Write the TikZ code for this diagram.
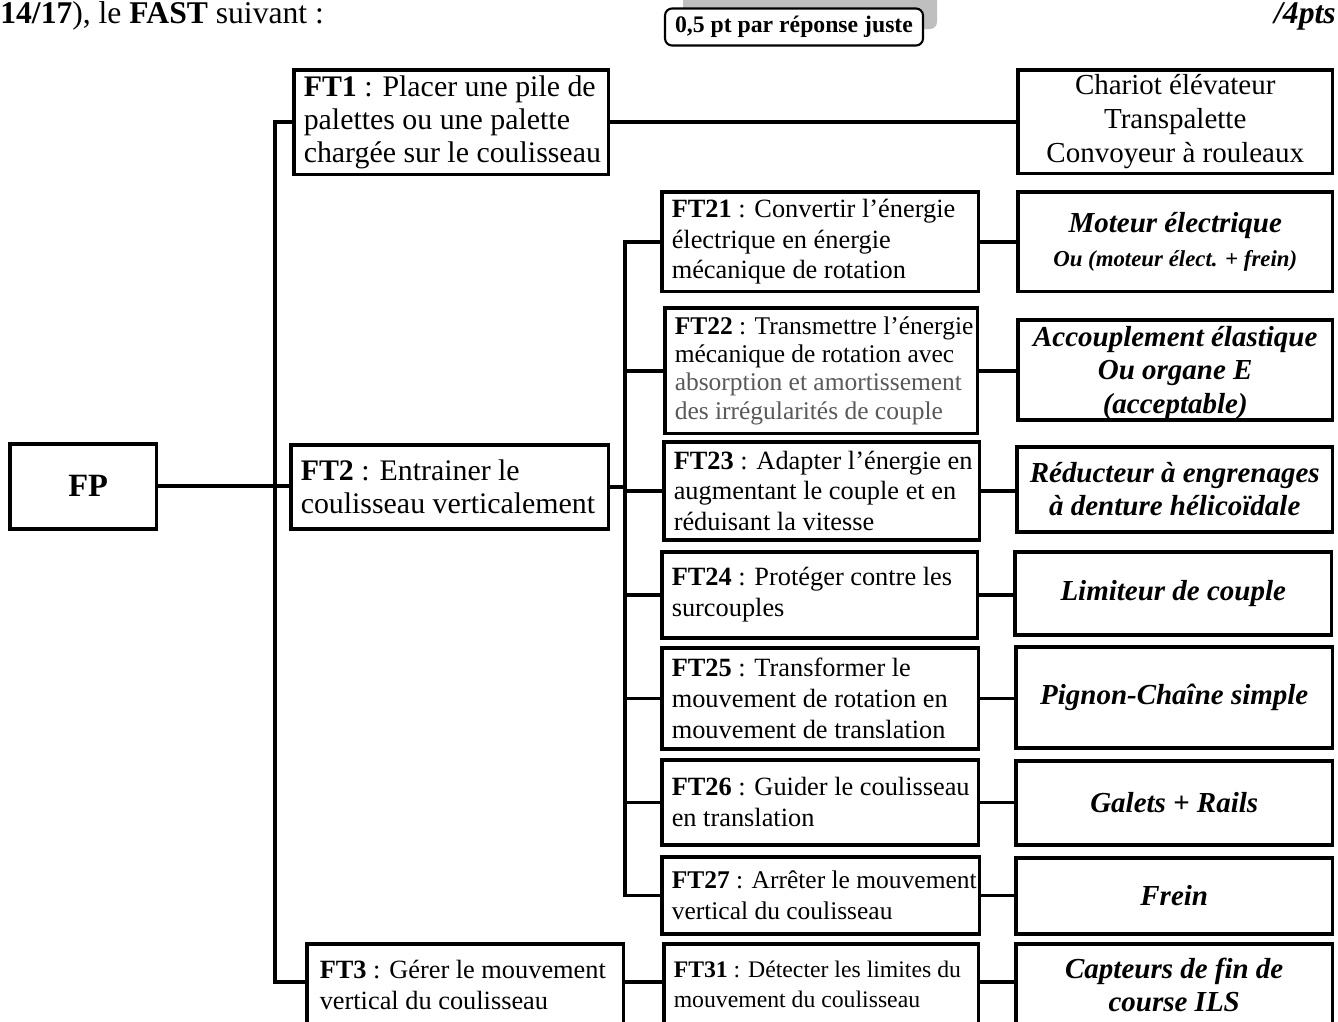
\documentclass[tikz,border=0pt]{standalone}
\usepackage{fontspec}
\setmainfont{Liberation Serif}
\usepackage{xcolor}
\usepackage{tikz}
\newcommand{\fsz}[2]{\fontsize{#1}{#2}\selectfont}

\begin{document}
\begin{tikzpicture}[
    x=0.02cm, y=-0.02cm,
    func/.style={draw, line width=2pt, anchor=north west, align=flush left,
                 inner sep=0pt, font=\fsz{15}{17.5},
                 execute at begin node={\leftskip=0.2cm\relax}},
    sol/.style={draw, line width=2pt, anchor=north west, align=center,
                inner sep=0pt, font=\fsz{16.5}{19}\bfseries\itshape},
    link/.style={line width=2pt}
]
\fill[white] (0,0) rectangle (1338,1021);
\useasboundingbox (0,0) rectangle (1338,1021);

% en-tete
\node[anchor=base west, inner sep=0pt, font=\fsz{18}{20}] (head) at (0,23) {\textbf{14/17}), le \textbf{FAST} suivant :};
\node[anchor=base east, inner sep=0pt, font=\fsz{18}{20}\bfseries\itshape] (pts) at (1336,23) {/4pts};
\fill[black!25, rounded corners=4pt] (683,-10) rectangle (937,29);
\node[draw, fill=white, rounded corners=4pt, line width=1.2pt, minimum width=5.16cm, minimum height=0.74cm,
      inner sep=0pt, font=\fsz{13.5}{15}\bfseries] (bareme) at (794,27) {0,5 pt par réponse juste};

% fonctions
\node[draw, line width=2pt, anchor=north west, minimum width=2.94cm, minimum height=1.70cm,
      font=\fsz{18.5}{20}\bfseries] (fp) at (8,442) {\hspace{0.2cm}FP};
\node[func, text width=6.30cm, minimum height=2.10cm, font=\fsz{17}{18.8}] (ft1) at (292,68) {\textbf{FT1} : Placer une pile de\\palettes ou une palette\\chargée sur le coulisseau};
\node[func, text width=6.36cm, minimum height=1.68cm, font=\fsz{17}{18.8}] (ft2) at (289,443) {\textbf{FT2} : Entrainer le\\coulisseau verticalement};
\node[func, text width=6.34cm, minimum height=1.64cm, execute at begin node={\leftskip=0.26cm\relax}] (ft3) at (305,942) {\textbf{FT3} : Gérer le mouvement\\vertical du coulisseau};

\node[func, text width=6.34cm, minimum height=2.00cm] (ft21) at (660,190) {\textbf{FT21} : Convertir l’énergie\\électrique en énergie\\mécanique de rotation};
\node[func, text width=6.26cm, minimum height=2.52cm, font=\fsz{14.5}{16}] (ft22) at (663,306) {\textbf{FT22} : Transmettre l’énergie\\mécanique de rotation avec\\{\color{black!65}absorption et amortissement}\\{\color{black!65}des irrégularités de couple}};
\node[func, text width=6.32cm, minimum height=1.96cm] (ft23) at (662,440) {\textbf{FT23} : Adapter l’énergie en\\augmentant le couple et en\\réduisant la vitesse};
\node[func, text width=6.32cm, minimum height=1.72cm] (ft24) at (660,550) {\textbf{FT24} : Protéger contre les\\surcouples};
\node[func, text width=6.34cm, minimum height=2.02cm] (ft25) at (660,646) {\textbf{FT25} : Transformer le\\mouvement de rotation en\\mouvement de translation};
\node[func, text width=6.34cm, minimum height=1.70cm] (ft26) at (660,758) {\textbf{FT26} : Guider le coulisseau\\en translation};
\node[func, text width=6.36cm, minimum height=1.54cm, font=\fsz{14.5}{17.5}] (ft27) at (660,855) {\mbox{\textbf{FT27} : Arrêter le mouvement}\\vertical du coulisseau};
\node[func, text width=6.30cm, minimum height=1.64cm, font=\fsz{13.5}{17}] (ft31) at (662,942) {\textbf{FT31} : Détecter les limites du\\mouvement du coulisseau};

% solutions
\node[sol, minimum width=6.30cm, minimum height=2.08cm, font=\fsz{16.5}{19.3}] (s1) at (1016,68) {Chariot élévateur\\Transpalette\\Convoyeur à rouleaux};
\node[sol, minimum width=6.30cm, minimum height=2.00cm] (s21) at (1016,190) {Moteur électrique\\{\fsz{13}{15}Ou (moteur élect. + frein)}};
\node[sol, minimum width=6.30cm, minimum height=2.00cm, text depth=0pt] (s22) at (1016,318) {Accouplement élastique\\Ou organe E\\(\underline{acceptable})};
\node[sol, minimum width=6.32cm, minimum height=1.70cm] (s23) at (1015,445) {Réducteur à engrenages\\à denture hélicoïdale};
\node[sol, minimum width=6.34cm, minimum height=1.66cm] (s24) at (1013,550) {Limiteur de couple};
\node[sol, minimum width=6.34cm, minimum height=2.02cm] (s25) at (1014,645) {Pignon-Chaîne simple};
\node[sol, minimum width=6.34cm, minimum height=1.68cm] (s26) at (1014,759) {Galets + Rails};
\node[sol, minimum width=6.34cm, minimum height=1.52cm] (s27) at (1014,856) {Frein};
\node[sol, minimum width=6.34cm, minimum height=1.64cm] (s31) at (1014,942) {Capteurs de fin de\\course ILS};

% liaisons
\coordinate (tr1) at (275,0);
\coordinate (tr2) at (625,0);
\coordinate (c3) at (0,982);
\draw[link] (fp.east) -- (fp.east -| ft2.west);
\draw[link] (ft1.west) -| (tr1 |- c3) -- (ft3.west |- c3);
\draw[link] (ft1.east) -- (ft1.east -| s1.west);
\draw[link] (ft2.east) -- (ft2.east -| tr2);
\draw[link] (ft21.west) -| (tr2 |- ft27.west) -- (ft27.west);
\foreach \n in {22,...,26}
  \draw[link] (ft\n.west -| tr2) -- (ft\n.west);
\foreach \n in {21,...,27}
  \draw[link] (ft\n.east) -- (ft\n.east -| s\n.west);
\draw[link] (ft3.east |- c3) -- (ft31.west |- c3);
\draw[link] (ft31.east |- c3) -- (s31.west |- c3);
\end{tikzpicture}
\end{document}
